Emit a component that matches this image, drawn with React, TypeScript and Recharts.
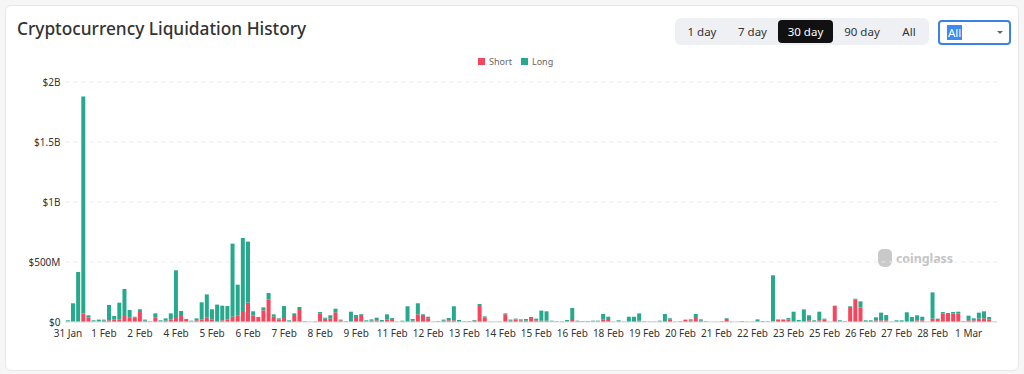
import { BarChart, Bar, XAxis, YAxis, CartesianGrid } from 'recharts';

// 4-hour buckets starting 31 Jan 12:00 (UTC)
const START_UTC = Date.UTC(2025, 0, 31, 12);
const STEP_HOURS = 4;
const MONTHS = ['Jan', 'Feb', 'Mar', 'Apr', 'May', 'Jun', 'Jul', 'Aug', 'Sep', 'Oct', 'Nov', 'Dec'];

// liquidations in $M per bucket
const SHORT_M = [
  3, 5, 8, 72, 39, 6, 6, 11, 14, 22, 22, 50, 39, 39, 83, 11, 3, 36, 6, 11,
  22, 33, 58, 17, 5, 14, 20, 39, 22, 8, 14, 20, 44, 56, 92, 161, 53, 33, 97, 189,
  44, 22, 33, 8, 50, 100, 4, 1, 3, 72, 28, 28, 81, 14, 4, 8, 42, 61, 5, 11,
  14, 8, 22, 17, 1, 4, 8, 11, 64, 50, 31, 1, 3, 11, 14, 14, 8, 3, 3, 11,
  133, 36, 1, 1, 1, 64, 11, 20, 14, 11, 33, 14, 11, 11, 4, 3, 3, 6, 25, 4,
  4, 4, 4, 4, 22, 25, 1, 3, 3, 8, 8, 11, 3, 3, 2, 3, 8, 19, 1, 5,
  17, 14, 33, 11, 5, 1, 1, 5, 25, 1, 1, 2, 1, 3, 8, 2, 2, 3, 20, 20,
  20, 8, 5, 8, 14, 8, 14, 22, 1, 133, 6, 5, 125, 189, 120, 8, 8, 14, 14, 14,
  1, 8, 8, 8, 8, 14, 14, 1, 28, 17, 69, 67, 72, 72, 3, 14, 14, 28, 31, 22,
  1,
];
const LONG_M = [
  11, 151, 409, 1808, 17, 8, 14, 9, 128, 28, 139, 225, 61, 5, 23, 9, 3, 36, 8, 19,
  50, 398, 34, 8, 6, 16, 144, 191, 84, 137, 122, 113, 609, 255, 608, 509, 36, 9, 25, 53,
  20, 9, 100, 6, 22, 25, 4, 2, 3, 11, 8, 28, 30, 6, 4, 78, 16, 6, 9, 11,
  22, 9, 42, 16, 2, 7, 123, 14, 92, 14, 13, 2, 5, 9, 19, 117, 9, 3, 5, 6,
  17, 11, 2, 2, 2, 8, 9, 8, 8, 14, 9, 14, 84, 78, 7, 3, 3, 11, 92, 7,
  4, 4, 7, 7, 45, 19, 2, 11, 1, 36, 36, 61, 3, 1, 2, 8, 59, 12, 2, 1,
  3, 8, 34, 11, 1, 1, 1, 1, 6, 2, 2, 6, 2, 1, 14, 6, 4, 386, 2, 2,
  13, 78, 12, 97, 42, 6, 72, 6, 2, 3, 8, 1, 6, 5, 52, 6, 6, 25, 64, 44,
  2, 6, 6, 73, 34, 42, 30, 2, 219, 11, 14, 8, 11, 14, 5, 39, 17, 50, 58, 20,
  2,
];

const Y_TICKS = [0, 500, 1000, 1500, 2000];
const RANGES = ['1 day', '7 day', '30 day', '90 day', 'All'];
const RANGE_WIDTHS = [50, 51, 55, 58, 36];
const ACTIVE_RANGE = '30 day';

const SHORT_COLOR = '#f6465d';
const LONG_COLOR = '#26a98d';

const data = SHORT_M.map((s, i) => {
  const d = new Date(START_UTC + i * STEP_HOURS * 3600 * 1000);
  const h = String(d.getUTCHours()).padStart(2, '0');
  return {
    time: `${d.getUTCDate()} ${MONTHS[d.getUTCMonth()]} ${h}:00`,
    short: s,
    long: LONG_M[i],
  };
});

const fmtY = (v: number) => {
  if (v === 0) return '$0';
  if (v >= 1000) return `$${v / 1000}B`;
  return `$${v}M`;
};

const fmtX = (v: string) => v.split(' ').slice(0, 2).join(' ');

const FONT = '"Noto Sans", Roboto, sans-serif';

export default function App() {
  return (
    <div style={{ position: 'relative', width: 1024, height: 374, background: '#f6f6f6', fontFamily: FONT, overflow: 'hidden' }}>
      <style>{'body{margin:0}'}</style>
      <div
        style={{
          position: 'absolute', left: 5, top: 5, width: 1012, height: 364,
          background: '#fff', border: '1px solid #e8e8e8', borderRadius: 6,
        }}
      />
      <div style={{ position: 'absolute', left: 17, top: 16, fontSize: 17.3, fontWeight: 500, color: '#333', lineHeight: '26px' }}>
        Cryptocurrency Liquidation History
      </div>

      <div
        style={{
          position: 'absolute', left: 675, top: 18, width: 254, height: 27,
          background: '#eef0f3', borderRadius: 6, display: 'flex', alignItems: 'center', paddingLeft: 2, boxSizing: 'border-box',
        }}
      >
        {RANGES.map((r, i) => {
          const active = r === ACTIVE_RANGE;
          return (
            <div
              key={r}
              style={{
                width: RANGE_WIDTHS[i], height: 23, lineHeight: '23px', textAlign: 'center', fontSize: 11.5,
                borderRadius: 4, background: active ? '#111' : 'transparent', color: active ? '#fff' : '#333',
              }}
            >
              {r}
            </div>
          );
        })}
      </div>

      <div
        style={{
          position: 'absolute', left: 938, top: 20, width: 73, height: 25, boxSizing: 'border-box',
          border: '2px solid #3b82e6', borderRadius: 4, background: '#fff',
        }}
      >
        <span style={{ position: 'absolute', left: 7, top: 3, fontSize: 11.5, lineHeight: '15px', background: '#3d8af7', color: '#fff', padding: '0 1px' }}>All</span>
        <span
          style={{
            position: 'absolute', left: 57, top: 9, width: 0, height: 0,
            borderLeft: '3px solid transparent', borderRight: '3px solid transparent', borderTop: '3px solid #666',
          }}
        />
      </div>

      <div style={{ position: 'absolute', left: 478, top: 55, display: 'flex', alignItems: 'center', fontSize: 9, color: '#666' }}>
        <span style={{ width: 7, height: 7, background: SHORT_COLOR, marginRight: 4 }} />
        <span style={{ marginRight: 9 }}>Short</span>
        <span style={{ width: 7, height: 7, background: LONG_COLOR, marginRight: 4 }} />
        <span>Long</span>
      </div>

      <div style={{ position: 'absolute', left: 878, top: 249, display: 'flex', alignItems: 'center', color: '#c4c4c4' }}>
        <span style={{ width: 14, height: 18, background: '#c9c9c9', borderRadius: '5px 5px 6px 6px', marginRight: 4 }} />
        <span style={{ fontSize: 12.5, fontWeight: 700, letterSpacing: -0.1 }}>coinglass</span>
      </div>

      <div style={{ position: 'absolute', left: 0, top: 0 }}>
        <BarChart
          width={1024}
          height={374}
          data={data}
          margin={{ top: 82, right: 27, bottom: 22, left: 0 }}
          barCategoryGap={0.45}
        >
          <CartesianGrid vertical={false} stroke="#ececec" strokeDasharray="4 4" />
          <XAxis
            dataKey="time"
            height={30}
            interval={6}
            tickFormatter={fmtX}
            tickLine={false}
            axisLine={{ stroke: '#e0e0e0' }}
            tick={{ fontSize: 10, fill: '#333', fontFamily: FONT }}
            tickMargin={2}
          />
          <YAxis
            width={65.4}
            domain={[0, 2000]}
            ticks={Y_TICKS}
            tickFormatter={fmtY}
            tickLine={false}
            axisLine={false}
            tickSize={4}
            tickMargin={1}
            tick={{ fontSize: 10, fill: '#333', fontFamily: FONT }}
          />
          <Bar dataKey="short" stackId="liq" fill={SHORT_COLOR} isAnimationActive={false} />
          <Bar dataKey="long" stackId="liq" fill={LONG_COLOR} isAnimationActive={false} />
        </BarChart>
      </div>
    </div>
  );
}
